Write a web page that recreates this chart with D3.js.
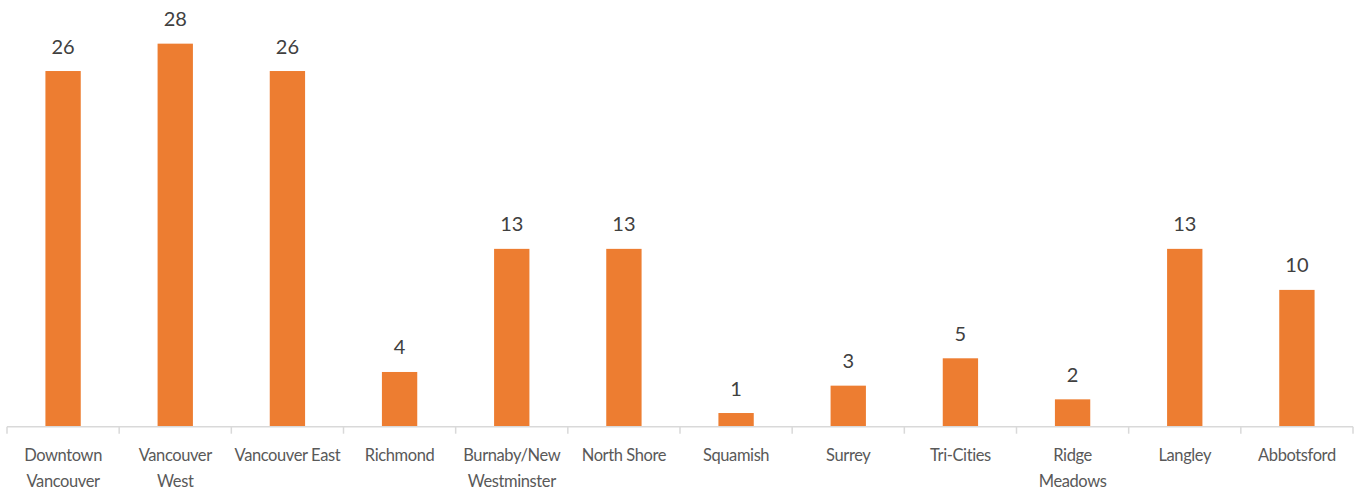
<!DOCTYPE html>
<html><head><meta charset="utf-8">
<script src="https://cdn.jsdelivr.net/npm/d3@7"></script>
<style>
html,body{margin:0;padding:0;background:#fff;}
svg{display:block;}
</style></head>
<body>
<svg id="chart" width="1354" height="491"></svg>
<script>
const categories = ["Downtown\nVancouver","Vancouver\nWest","Vancouver East","Richmond","Burnaby/New\nWestminster","North Shore","Squamish","Surrey","Tri-Cities","Ridge\nMeadows","Langley","Abbotsford"];
const values = [26,28,26,4,13,13,1,3,5,2,13,10];

const W = 1354, H = 491;
const baseY = 426.7;
const svg = d3.select("#chart");
const font = "Lato, 'Open Sans', sans-serif";
const x0 = 7, x1 = 1353;

const x = d3.scaleBand().domain(categories).range([x0, x1]).paddingInner(0.685).paddingOuter(0.3425);
const y = d3.scaleLinear().domain([0, 30]).range([baseY, baseY - 30 * 13.68]);

svg.selectAll("rect.bar").data(values).join("rect")
  .attr("class","bar")
  .attr("x",(d,i)=>x(categories[i]))
  .attr("width",x.bandwidth())
  .attr("y",d=>y(d))
  .attr("height",d=>y(0)-y(d))
  .attr("fill","#ED7D31");

svg.selectAll("text.val").data(values).join("text")
  .attr("class","val")
  .attr("x",(d,i)=>x(categories[i])+x.bandwidth()/2)
  .attr("y",d=>y(d)-17.5)
  .attr("text-anchor","middle")
  .attr("font-family",font)
  .attr("font-size",20)
  .attr("fill","#404040")
  .text(d=>d);

// axis line
const xa = d3.scaleBand().domain(categories).range([x0, x1]);
svg.append("line").attr("x1",x0).attr("x2",x1).attr("y1",baseY).attr("y2",baseY)
  .attr("stroke","#d9d9d9").attr("stroke-width",1.5);
const tickPos = categories.map(c=>xa(c)).concat([x1]);
svg.selectAll("line.tick").data(tickPos).join("line")
  .attr("class","tick")
  .attr("x1",d=>d).attr("x2",d=>d)
  .attr("y1",baseY).attr("y2",baseY+7)
  .attr("stroke","#d9d9d9").attr("stroke-width",1.5);

const lab = svg.selectAll("text.cat").data(categories).join("text")
  .attr("class","cat")
  .attr("x",d=>xa(d)+xa.bandwidth()/2)
  .attr("y",460.5)
  .attr("text-anchor","middle")
  .attr("font-family",font)
  .attr("font-size",16.5)
  .attr("letter-spacing",-0.4)
  .attr("fill","#595959");
lab.each(function(d){
  const t = d3.select(this);
  d.split("\n").forEach((s,i)=>{
    t.append("tspan").attr("x",xa(d)+xa.bandwidth()/2).attr("dy",i===0?0:26).text(s);
  });
});
</script>
</body></html>
